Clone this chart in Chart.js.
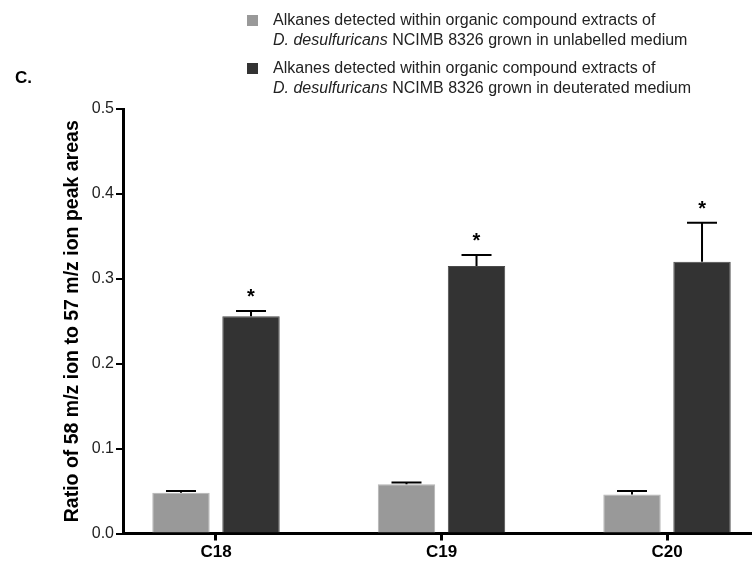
<!DOCTYPE html>
<html>
<head>
<meta charset="utf-8">
<script src="https://cdn.jsdelivr.net/npm/chart.js@4.4.0/dist/chart.umd.min.js"></script>
<style>
  body { margin: 0; background: #fff; font-family: "Liberation Sans", Arial, sans-serif; }
  #wrap { position: relative; width: 753px; height: 562px; }
  #myChart { position: absolute; left: 0; top: 0; }
  .panel { position: absolute; left: 15px; top: 68px; font-size: 17px; font-weight: bold; line-height: 20px; }
  .item { position: absolute; left: 247px; font-size: 16px; line-height: 20px; color: #222; }
  .sw { position: absolute; left: 0; top: 5px; width: 11px; height: 11px; }
  .txt { position: absolute; left: 26px; top: 0; white-space: nowrap; }
</style>
</head>
<body>
<div id="wrap">
  <canvas id="myChart" width="753" height="562"></canvas>
  <div class="panel">C.</div>
  <div class="item" style="top:10px">
    <span class="sw" style="background:#999999"></span>
    <div class="txt">Alkanes detected within organic compound extracts of<br><i>D. desulfuricans</i> NCIMB 8326 grown in unlabelled medium</div>
  </div>
  <div class="item" style="top:58px">
    <span class="sw" style="background:#333333"></span>
    <div class="txt">Alkanes detected within organic compound extracts of<br><i>D. desulfuricans</i> NCIMB 8326 grown in deuterated medium</div>
  </div>
</div>
<script>
// values
const categories = ['C18', 'C19', 'C20'];
const unlabelled = [0.048, 0.058, 0.046];
const unlabelledErr = [0.002, 0.002, 0.004];
const deuterated = [0.256, 0.315, 0.320];
const deuteratedErr = [0.006, 0.013, 0.046];
const significant = [true, true, true];

const font = '"Liberation Sans", Arial, sans-serif';

// error bars (upper only) and the asterisks
const errorBars = {
  id: 'errorBars',
  afterDatasetsDraw(chart) {
    const ctx = chart.ctx;
    const y = chart.scales.y;
    const errs = [unlabelledErr, deuteratedErr];
    ctx.save();
    ctx.strokeStyle = '#000';
    ctx.lineWidth = 2;
    chart.data.datasets.forEach((ds, i) => {
      const meta = chart.getDatasetMeta(i);
      meta.data.forEach((bar, j) => {
        const top = y.getPixelForValue(ds.data[j].y + errs[i][j]);
        ctx.beginPath();
        ctx.moveTo(bar.x, bar.y);
        ctx.lineTo(bar.x, top);
        ctx.moveTo(bar.x - 15, top);
        ctx.lineTo(bar.x + 15, top);
        ctx.stroke();
        if (i === 1 && significant[j]) {
          ctx.fillStyle = '#000';
          ctx.font = 'bold 20px ' + font;
          ctx.textAlign = 'center';
          ctx.textBaseline = 'alphabetic';
          ctx.fillText('*', bar.x, top - 8);
        }
      });
    });
    ctx.restore();
  }
};

const ctx = document.getElementById('myChart');

const myChart = new Chart(ctx, {
  type: 'bar',
  data: {
    datasets: [{
      label: 'unlabelled',
      data: unlabelled.map((v, i) => ({ x: i, y: v })),
      backgroundColor: '#999999',
      borderColor: '#b4b4b4',
      borderWidth: 1
    }, {
      label: 'deuterated',
      data: deuterated.map((v, i) => ({ x: i, y: v })),
      backgroundColor: '#333333',
      borderColor: '#4a4a4a',
      borderWidth: 1
    }]
  },
  options: {
    responsive: false,
    animation: false,
    events: [],
    categoryPercentage: 0.621,
    barPercentage: 0.82,
    layout: { padding: { top: 109, right: 3, left: 0, bottom: 0 } },
    plugins: { legend: { display: false }, tooltip: { enabled: false } },
    scales: {
      x: {
        type: 'linear',
        offset: false,
        min: -0.4124,
        max: 2.368,
        afterBuildTicks: (scale) => {
          scale.ticks = categories.map((c, i) => ({ value: i }));
        },
        afterFit: (scale) => { scale.height = 28.5; },
        ticks: {
          callback: (v) => categories[v],
          color: '#000',
          font: { family: font, size: 17, weight: 'bold' },
          padding: 2,
          maxRotation: 0
        },
        grid: { offset: false, drawOnChartArea: false, drawTicks: true, tickLength: 7, color: '#000', lineWidth: 3 },
        border: { color: '#000', width: 3 }
      },
      y: {
        min: 0,
        max: 0.5,
        afterFit: (scale) => { scale.width = 123; },
        ticks: {
          stepSize: 0.1,
          callback: (v) => v.toFixed(1),
          color: '#222',
          font: { family: font, size: 16 },
          padding: 2
        },
        grid: { drawOnChartArea: false, drawTicks: true, tickLength: 7, color: '#000', lineWidth: 2 },
        border: { color: '#000', width: 3 },
        title: {
          display: true,
          text: 'Ratio of 58 m/z ion to 57 m/z ion peak areas',
          color: '#000',
          font: { family: font, size: 19.5, weight: 'bold' },
          padding: { top: 61, bottom: 0 }
        }
      }
    }
  },
  plugins: [errorBars]
});
</script>
</body>
</html>
